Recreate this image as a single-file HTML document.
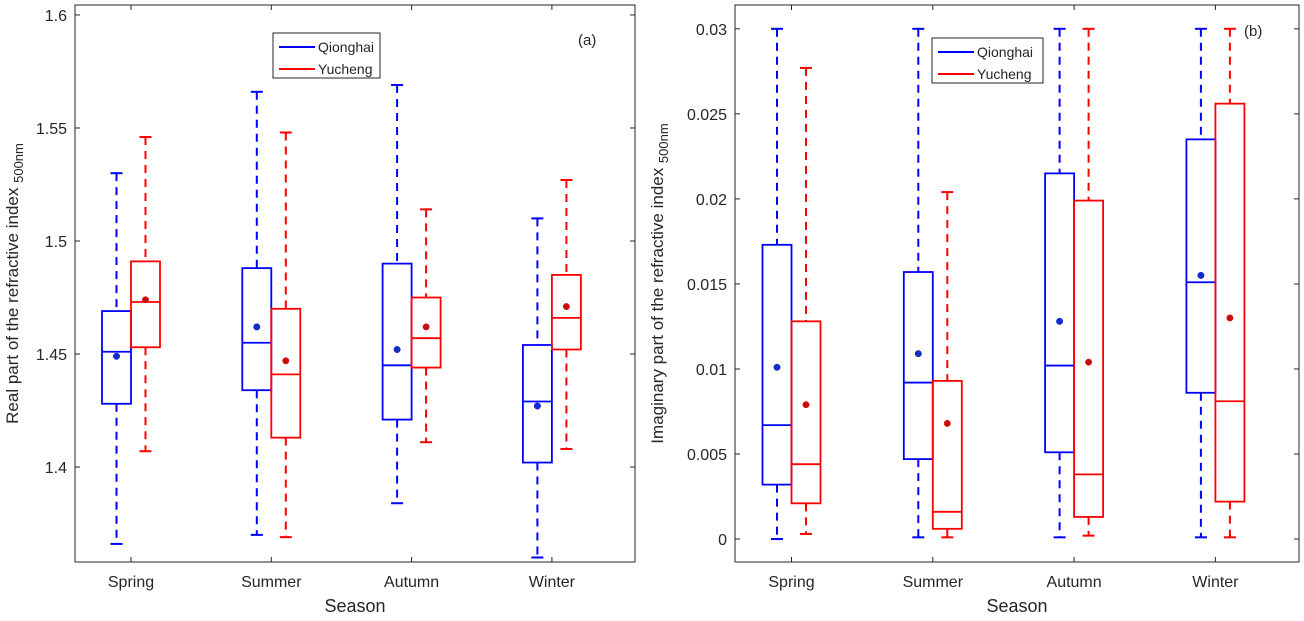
<!DOCTYPE html>
<html><head><meta charset="utf-8"><style>
body{margin:0;background:#fff;}
svg text{font-family:"Liberation Sans",Arial,sans-serif;fill:#262626;}
</style></head><body>
<svg id="c" width="1304" height="616" xmlns="http://www.w3.org/2000/svg"></svg>
<script>
const seasons=["Spring","Summer","Autumn","Winter"];
const series=["Qionghai","Yucheng"];
// real part [top, q3, median, q1, low, mean]
const realQ=[[1.530,1.469,1.451,1.428,1.366,1.449],[1.566,1.488,1.455,1.434,1.370,1.462],[1.569,1.490,1.445,1.421,1.384,1.452],[1.510,1.454,1.429,1.402,1.360,1.427]];
const realY=[[1.546,1.491,1.473,1.453,1.407,1.474],[1.548,1.470,1.441,1.413,1.369,1.447],[1.514,1.475,1.457,1.444,1.411,1.462],[1.527,1.485,1.466,1.452,1.408,1.471]];
const imagQ=[[0.030,0.0173,0.0067,0.0032,0.0000,0.0101],[0.030,0.0157,0.0092,0.0047,0.0001,0.0109],[0.030,0.0215,0.0102,0.0051,0.0001,0.0128],[0.030,0.0235,0.0151,0.0086,0.0001,0.0155]];
const imagY=[[0.0277,0.0128,0.0044,0.0021,0.0003,0.0079],[0.0204,0.0093,0.0016,0.0006,0.0001,0.0068],[0.030,0.0199,0.0038,0.0013,0.0002,0.0104],[0.030,0.0256,0.0081,0.0022,0.0001,0.0130]];
const realTicks=[1.4,1.45,1.5,1.55,1.6];
const realTickLabels=["1.4","1.45","1.5","1.55","1.6"];
const imagTicks=[0,0.005,0.01,0.015,0.02,0.025,0.03];
const imagTickLabels=["0","0.005","0.01","0.015","0.02","0.025","0.03"];

const svg=document.getElementById('c');
const NS="http://www.w3.org/2000/svg";
function mk(tag,attrs,parent){const e=document.createElementNS(NS,tag);for(const k in attrs)e.setAttribute(k,attrs[k]);(parent||svg).appendChild(e);return e;}

function panel(cfg){
  const g=mk('g',{});
  
  
  const {L,R,T,B,ymin,ymax,x0,dx}=cfg;
  const y=v=>B-(v-ymin)/(ymax-ymin)*(B-T);
  const x=i=>x0+dx*i;
  const frame=mk('rect',{x:L,y:T,width:R-L,height:B-T,fill:'none',stroke:'#262626','stroke-width':1},g);
  
  
  cfg.ticks.forEach((t,i)=>{
    const yy=y(t);
    mk('line',{x1:L,x2:L+5,y1:yy,y2:yy,stroke:'#262626'},g);
    mk('line',{x1:R,x2:R-5,y1:yy,y2:yy,stroke:'#262626'},g);
    const tl=mk('text',{x:L-8,y:yy+6,'text-anchor':'end','font-size':16},g);
    tl.textContent=cfg.tickLabels[i];
    
    
  });
  seasons.forEach((s,i)=>{
    const xx=x(i);
    mk('line',{x1:xx,x2:xx,y1:B,y2:B-5,stroke:'#262626'},g);
    mk('line',{x1:xx,x2:xx,y1:T,y2:T+5,stroke:'#262626'},g);
    const tl=mk('text',{x:xx,y:B+25,'text-anchor':'middle','font-size':16},g);
    tl.textContent=s;
    
    
  });
  const datas=[cfg.q,cfg.yc];const cols=['#0000ff','#ff0000'];
  datas.forEach((d,si)=>{
    d.forEach((r,i)=>{
      const cx=x(i)+(si===0?-14.5:14.5);const w=29;
      const bg=mk('g',{},g);
      
      
      const c=cols[si];
      mk('line',{x1:cx,x2:cx,y1:y(r[0]),y2:y(r[1]),stroke:c,'stroke-width':2,'stroke-dasharray':'8,6'},bg);
      mk('line',{x1:cx,x2:cx,y1:y(r[3]),y2:y(r[4]),stroke:c,'stroke-width':2,'stroke-dasharray':'8,6'},bg);
      mk('line',{x1:cx-6,x2:cx+6,y1:y(r[0]),y2:y(r[0]),stroke:c,'stroke-width':2},bg);
      mk('line',{x1:cx-6,x2:cx+6,y1:y(r[4]),y2:y(r[4]),stroke:c,'stroke-width':2},bg);
      mk('rect',{x:cx-w/2,y:y(r[1]),width:w,height:y(r[3])-y(r[1]),fill:'none',stroke:c,'stroke-width':1.8},bg);
      mk('line',{x1:cx-w/2,x2:cx+w/2,y1:y(r[2]),y2:y(r[2]),stroke:c,'stroke-width':1.8},bg);
      mk('circle',{cx:cx,cy:y(r[5]),r:3.2,fill:si===0?'#1030c0':'#c01010',stroke:c,'stroke-width':0.5},bg);
    });
  });
  const lg=mk('g',{},g);
  
  
  const {lx,ly,lw,lh}=cfg;
  mk('rect',{x:lx,y:ly,width:lw,height:lh,fill:'#fff',stroke:'#262626'},lg);
  series.forEach((s,si)=>{
    const yy=ly+14+si*22;
    mk('line',{x1:lx+6,x2:lx+42,y1:yy,y2:yy,stroke:cols[si],'stroke-width':2},lg);
    const t=mk('text',{x:lx+45,y:yy+5,'font-size':14},lg);
    t.textContent=s;
    
    
  });
  const pl=mk('text',{x:cfg.px,y:cfg.py,'font-size':15},g);
  pl.textContent=cfg.plabel;
  
  
  const xl=mk('text',{x:(L+R)/2,y:612,'text-anchor':'middle','font-size':18},g);
  xl.textContent='Season';
  
  
  const yl=mk('text',{x:0,y:0,'text-anchor':'middle','font-size':17,transform:`translate(${cfg.ylx},${(T+B)/2}) rotate(-90)`},g);
  yl.innerHTML=cfg.ytitle+' <tspan font-size="13" dy="5">500nm</tspan>';
  
  
}
panel({name:'panel-a',L:75,R:635,T:5,B:562,ymin:1.358,ymax:1.6044,x0:131,dx:140.3,q:realQ,yc:realY,ticks:realTicks,tickLabels:realTickLabels,lx:273,ly:33,lw:107,lh:45,px:578,py:45,plabel:'(a)',ylx:18,ytitle:'Real part of the refractive index'});
panel({name:'panel-b',L:735,R:1299,T:5,B:562,ymin:-0.00135,ymax:0.0314,x0:791.5,dx:141.3,q:imagQ,yc:imagY,ticks:imagTicks,tickLabels:imagTickLabels,lx:932,ly:38,lw:111,lh:45,px:1244,py:36,plabel:'(b)',ylx:663,ytitle:'Imaginary part of the refractive index'});
</script>
</body></html>
